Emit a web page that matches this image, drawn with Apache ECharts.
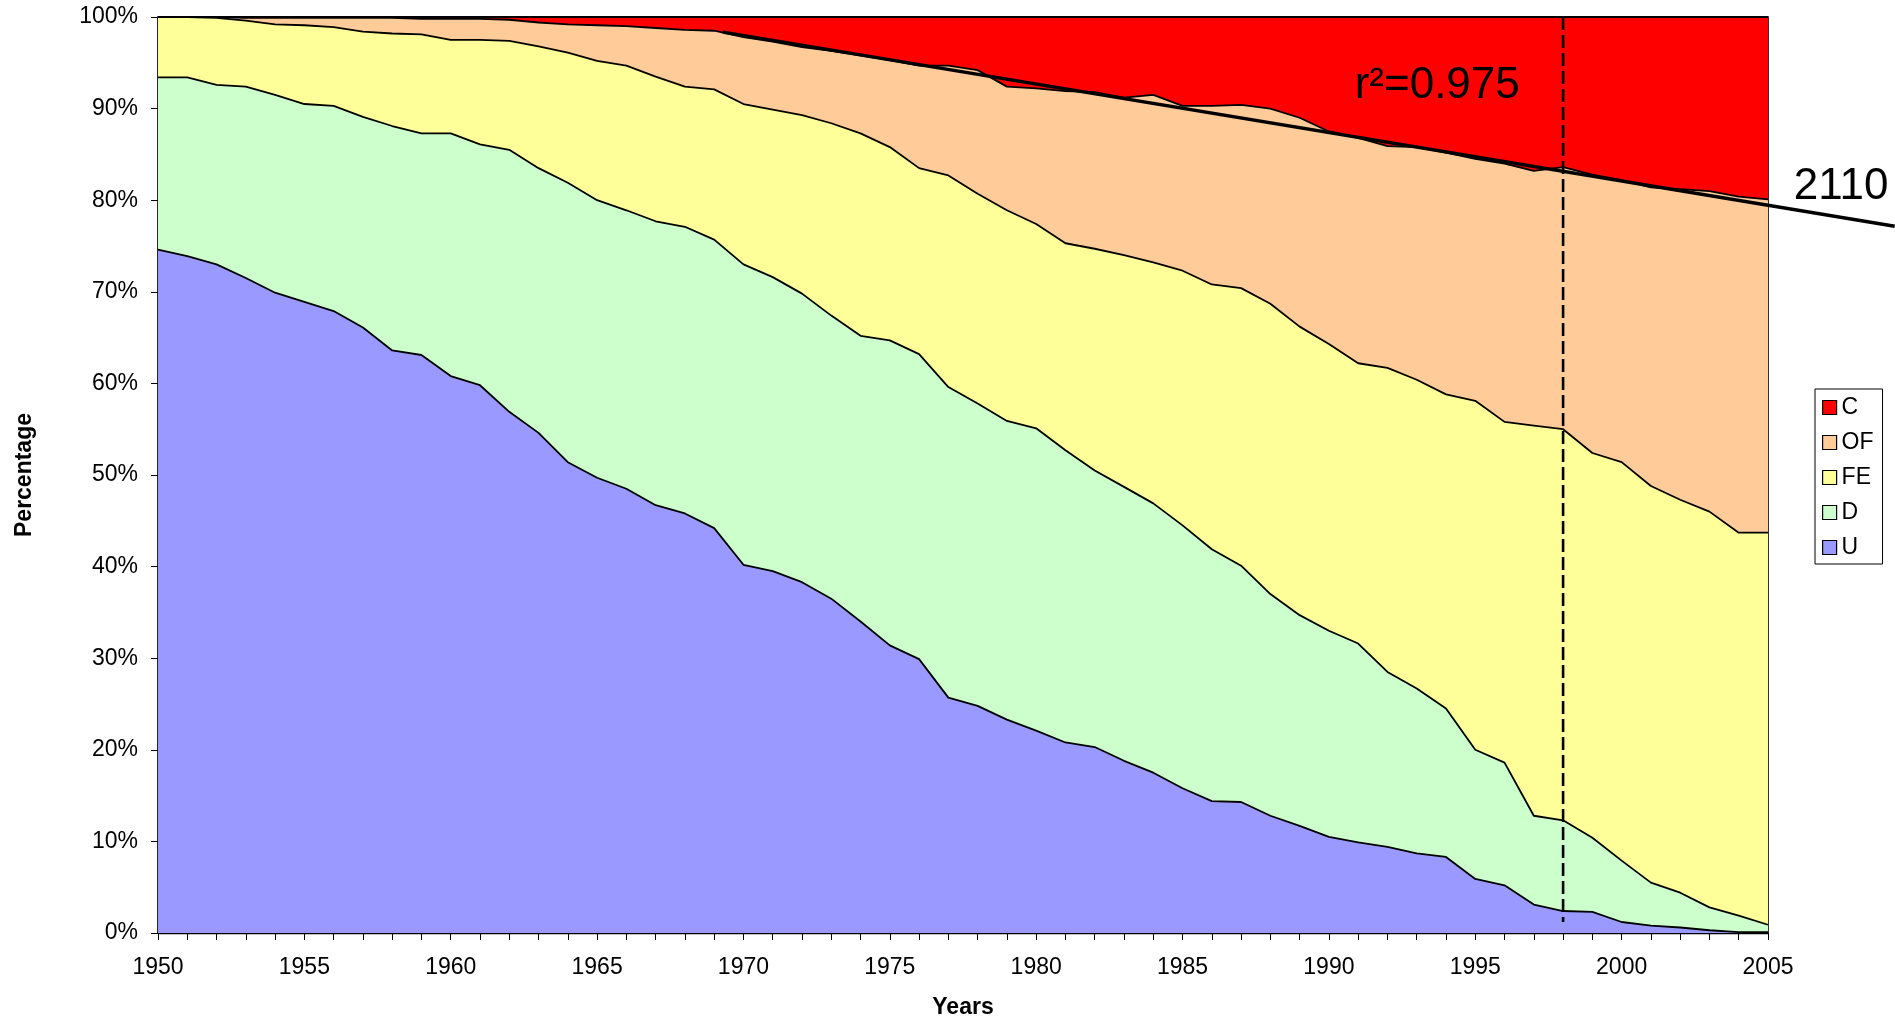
<!DOCTYPE html>
<html>
<head>
<meta charset="utf-8">
<script src="https://cdn.jsdelivr.net/npm/echarts@6/dist/echarts.min.js"></script>
<style>
  html, body { margin: 0; padding: 0; background: #fff; }
  #chart { width: 1895px; height: 1024px; }
</style>
</head>
<body>
<div id="chart"></div>
<script>
// Share of each class per year (percent of total), stacked bottom to top: U, D, FE, OF, C
const years = [
  '1950', '1951', '1952', '1953', '1954', '1955', '1956', '1957', '1958', '1959',
  '1960', '1961', '1962', '1963', '1964', '1965', '1966', '1967', '1968', '1969',
  '1970', '1971', '1972', '1973', '1974', '1975', '1976', '1977', '1978', '1979',
  '1980', '1981', '1982', '1983', '1984', '1985', '1986', '1987', '1988', '1989',
  '1990', '1991', '1992', '1993', '1994', '1995', '1996', '1997', '1998', '1999',
  '2000', '2001', '2002', '2003', '2004', '2005'
];

const U = [
  74.6, 73.9, 73.0, 71.5, 69.9, 68.9, 67.9, 66.1, 63.6, 63.1,
  60.8, 59.8, 56.9, 54.6, 51.4, 49.7, 48.5, 46.7, 45.8, 44.2,
  40.2, 39.5, 38.3, 36.5, 34.0, 31.4, 29.9, 25.7, 24.8, 23.3,
  22.1, 20.8, 20.3, 18.8, 17.5, 15.8, 14.4, 14.3, 12.8, 11.7,
  10.5, 9.9, 9.4, 8.7, 8.3, 5.9, 5.2, 3.1, 2.4, 2.3,
  1.2, 0.8, 0.6, 0.3, 0.1, 0.1
];
const D = [
  18.8, 19.5, 19.6, 20.9, 21.6, 21.6, 22.4, 23.0, 24.5, 24.2,
  26.5, 26.3, 28.6, 28.9, 30.5, 30.3, 30.4, 31.0, 31.3, 31.5,
  32.8, 32.1, 31.5, 30.9, 31.2, 33.3, 33.3, 33.9, 33.0, 32.6,
  33.0, 31.9, 30.2, 29.9, 29.4, 28.7, 27.5, 25.8, 24.2, 23.0,
  22.5, 21.7, 19.1, 18.0, 16.2, 14.1, 13.4, 9.7, 9.9, 8.1,
  6.7, 4.7, 3.8, 2.5, 1.8, 0.8
];
const FE = [
  6.6, 6.6, 7.3, 7.2, 7.7, 8.6, 8.6, 9.3, 10.1, 10.8,
  10.2, 11.4, 11.9, 13.3, 14.2, 15.2, 15.8, 15.8, 15.3, 16.4,
  17.5, 18.3, 19.5, 21.0, 22.1, 21.1, 20.3, 23.1, 22.9, 23.0,
  22.3, 22.6, 24.2, 25.3, 26.3, 27.8, 28.9, 30.3, 31.7, 31.5,
  31.3, 30.6, 33.2, 33.7, 34.3, 38.1, 37.2, 42.6, 42.7, 42.0,
  43.5, 43.3, 42.9, 43.2, 41.8, 42.8
];
const OF = [
  0.0, 0.0, 0.1, 0.3, 0.7, 0.8, 1.0, 1.5, 1.7, 1.7,
  2.3, 2.3, 2.3, 2.6, 3.1, 3.9, 4.3, 5.3, 6.2, 6.4,
  7.3, 7.4, 7.4, 7.9, 8.5, 9.5, 11.2, 12.0, 13.5, 13.5,
  14.8, 16.6, 17.1, 17.2, 18.3, 18.0, 19.5, 20.0, 21.3, 22.8,
  23.2, 24.6, 24.2, 25.4, 26.4, 26.4, 28.2, 27.8, 28.6, 30.4,
  30.8, 32.6, 33.9, 35.0, 36.7, 36.4
];
const C = [
  0.0, 0.0, 0.0, 0.1, 0.1, 0.1, 0.1, 0.1, 0.1, 0.2,
  0.2, 0.2, 0.3, 0.6, 0.8, 0.9, 1.0, 1.2, 1.4, 1.5,
  2.2, 2.7, 3.3, 3.7, 4.2, 4.7, 5.3, 5.3, 5.8, 7.6,
  7.8, 8.1, 8.2, 8.8, 8.5, 9.7, 9.7, 9.6, 10.0, 11.0,
  12.5, 13.2, 14.1, 14.2, 14.8, 15.5, 16.0, 16.8, 16.4, 17.2,
  17.8, 18.6, 18.8, 19.0, 19.6, 19.9
];

// Linear trend of the C boundary, drawn past the last year
const trendYears = [1969.3, 2009.33];
const trendPct = [98.35, 77.16];
const trendFit = 'r²=0.975';
const trendEndLabel = '2110';

// Reference year marked with a dashed vertical line
const cutoffYear = 1998;
const cutoffRange = [100, 1.2];

// Annotation anchors (year, percent)
const fitLabelAt = [1993.7, 92.5];
const endLabelAt = [2007.5, 81.5];

const layers = [
  { name: 'U', values: U, color: '#9999FF' },
  { name: 'D', values: D, color: '#CCFFCC' },
  { name: 'FE', values: FE, color: '#FFFF99' },
  { name: 'OF', values: OF, color: '#FFCC99' },
  { name: 'C', values: C, color: '#FF0000' }
];

const FONT = '"Liberation Sans", Arial, Helvetica, sans-serif';

const series = [];
// Filled bands
layers.forEach(l => {
  series.push({
    name: l.name,
    type: 'line',
    stack: 'share',
    xAxisIndex: 0,
    data: l.values,
    color: l.color,
    itemStyle: { color: l.color },
    areaStyle: { color: l.color, opacity: 1 },
    lineStyle: { width: 0, color: l.color },
    showSymbol: false,
    symbol: 'none',
    z: 2
  });
});
// Black boundary lines on top of every band
layers.forEach(l => {
  series.push({
    name: l.name + ' edge',
    type: 'line',
    stack: 'edges',
    xAxisIndex: 0,
    data: l.values,
    lineStyle: { width: 1.8, color: '#000' },
    itemStyle: { color: '#000' },
    showSymbol: false,
    symbol: 'none',
    z: 3
  });
});
// Dashed reference year
series.push({
  name: 'cutoff',
  type: 'line',
  xAxisIndex: 1,
  data: cutoffRange.map(v => [cutoffYear, v]),
  lineStyle: { width: 2.6, color: '#000', type: [13, 5] },
  itemStyle: { color: '#000' },
  showSymbol: false,
  symbol: 'none',
  z: 4
});

const chart = echarts.init(document.getElementById('chart'), null, { renderer: 'canvas' });

const tickLabelStyle = { fontFamily: FONT, fontSize: 23, color: '#000' };
const nameStyle = { fontFamily: FONT, fontSize: 23, fontWeight: 'bold', color: '#000' };

const option = {
  animation: false,
  backgroundColor: '#ffffff',
  textStyle: { fontFamily: FONT },
  grid: {
    left: 158, right: 127, top: 17, bottom: 91,
    show: true, borderColor: '#000', borderWidth: 1.6,
    backgroundColor: 'transparent'
  },
  legend: {
    data: ['C', 'OF', 'FE', 'D', 'U'],
    orient: 'vertical',
    left: 1815, top: 389,
    itemWidth: 14, itemHeight: 14, itemGap: 12,
    icon: 'rect',
    padding: [7, 9, 5, 7],
    borderColor: '#000', borderWidth: 1,
    backgroundColor: '#fff',
    itemStyle: { borderColor: '#000', borderWidth: 1.2 },
    textStyle: { fontFamily: FONT, fontSize: 23, color: '#000' },
    selectedMode: false
  },
  xAxis: [
    {
      type: 'category',
      data: years,
      boundaryGap: false,
      name: 'Years',
      nameLocation: 'middle',
      nameGap: 63,
      nameTextStyle: nameStyle,
      axisLine: { show: true, onZero: false, lineStyle: { color: '#000', width: 1.4 } },
      axisTick: { show: true, inside: false, length: 7, interval: 0, lineStyle: { color: '#000', width: 1 } },
      axisLabel: Object.assign({ margin: 23, interval: 4 }, tickLabelStyle),
      splitLine: { show: false }
    },
    {
      // Continuous year scale over the same span, for the overlays
      type: 'value',
      min: 1950, max: 2005,
      show: false,
      position: 'bottom'
    }
  ],
  yAxis: {
    type: 'value',
    min: 0, max: 100, interval: 10,
    name: 'Percentage',
    nameLocation: 'middle',
    nameRotate: 90,
    nameGap: 122,
    nameTextStyle: nameStyle,
    axisLine: { show: true, lineStyle: { color: '#000', width: 1.4 } },
    axisTick: { show: true, inside: false, length: 7, lineStyle: { color: '#000', width: 1 } },
    axisLabel: Object.assign({ margin: 20, formatter: v => v + '%' }, tickLabelStyle),
    splitLine: { show: false }
  },
  series: series
};

chart.setOption(option);

// Overlays placed through the continuous year axis and the percent axis
const toPx = p => chart.convertToPixel({ xAxisIndex: 1, yAxisIndex: 0 }, p);
const t0 = toPx([trendYears[0], trendPct[0]]);
const t1 = toPx([trendYears[1], trendPct[1]]);
const pFit = toPx(fitLabelAt);
const pEnd = toPx(endLabelAt);

chart.setOption({
  graphic: [
    {
      type: 'line', z: 20,
      shape: { x1: t0[0], y1: t0[1], x2: t1[0], y2: t1[1] },
      style: { stroke: '#000', lineWidth: 3.4, lineCap: 'butt' }
    },
    {
      type: 'text', x: pFit[0], y: pFit[1], z: 20,
      style: { text: trendFit, fontFamily: FONT, fontSize: 44, fill: '#000', align: 'center', verticalAlign: 'middle' }
    },
    {
      type: 'text', x: pEnd[0], y: pEnd[1], z: 20,
      style: { text: trendEndLabel, fontFamily: FONT, fontSize: 44, fill: '#000', align: 'center', verticalAlign: 'middle' }
    }
  ]
});
</script>
</body>
</html>
